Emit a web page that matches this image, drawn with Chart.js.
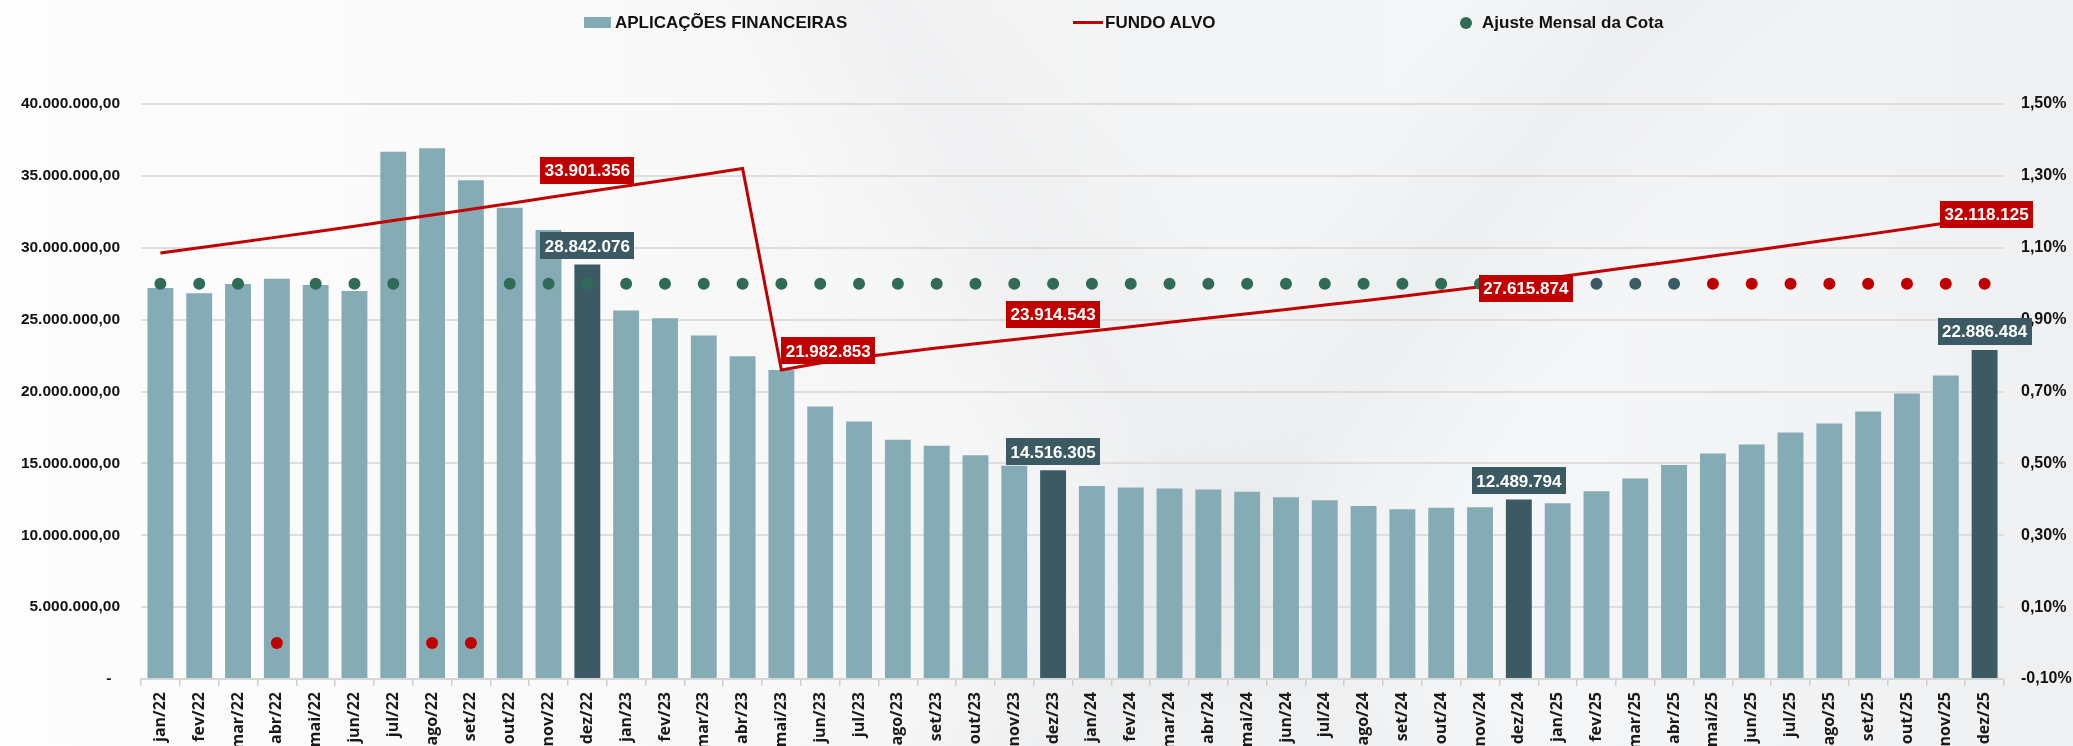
<!DOCTYPE html>
<html lang="pt-BR">
<head>
<meta charset="utf-8">
<title>Aplicações Financeiras x Fundo Alvo</title>
<script src="https://cdn.jsdelivr.net/npm/chart.js@4.4.1/dist/chart.umd.min.js"></script>
<style>
  html, body { margin: 0; padding: 0; }
  body { width: 2073px; height: 746px; overflow: hidden; font-family: "Liberation Sans", Arial, sans-serif; }
  #wrap {
    position: relative;
    width: 2073px;
    height: 746px;
    background:
      linear-gradient(128deg, rgba(255,255,255,0) 55%, rgba(215,218,222,0.25) 62%, rgba(255,255,255,0) 70%),
      linear-gradient(58deg, rgba(255,255,255,0) 46%, rgba(228,230,233,0.35) 53%, rgba(255,255,255,0) 60%),
      linear-gradient(90deg, #fdfdfd 0%, #f9f9f9 30%, #f3f4f5 55%, #f5f6f7 75%, #eff0f2 100%);
  }
  #legend { position: absolute; top: 0; left: 0; width: 100%; height: 46px; font-weight: bold; font-size: 17px; color: #111; }
  .item { position: absolute; top: 13px; height: 20px; line-height: 20px; white-space: nowrap; }
  .mark { display: inline-block; vertical-align: middle; position: relative; top: -1px; }
</style>
</head>
<body>
<div id="wrap">
  <canvas id="myChart"></canvas>
  <div id="legend">
    <div class="item" style="left:584px"><span class="mark" style="width:27px;height:11px;background:#85abb5;margin-right:4px"></span>APLICAÇÕES FINANCEIRAS</div>
    <div class="item" style="left:1073px"><span class="mark" style="width:30px;height:3px;background:#c00000;margin-right:2px"></span>FUNDO ALVO</div>
    <div class="item" style="left:1460px"><span class="mark" style="width:12px;height:12px;border-radius:50%;background:#2f6b57;margin-right:10px"></span>Ajuste Mensal da Cota</div>
  </div>
</div>
<script>
//Chart data
const months = [
  "jan/22", "fev/22", "mar/22", "abr/22", "mai/22", "jun/22", "jul/22", "ago/22", "set/22", "out/22", "nov/22", "dez/22",
  "jan/23", "fev/23", "mar/23", "abr/23", "mai/23", "jun/23", "jul/23", "ago/23", "set/23", "out/23", "nov/23", "dez/23",
  "jan/24", "fev/24", "mar/24", "abr/24", "mai/24", "jun/24", "jul/24", "ago/24", "set/24", "out/24", "nov/24", "dez/24",
  "jan/25", "fev/25", "mar/25", "abr/25", "mai/25", "jun/25", "jul/25", "ago/25", "set/25", "out/25", "nov/25", "dez/25",
];

const aplicacoes = [
  27200000, 26830000, 27480000, 27850000, 27410000, 26990000, 36670000, 36920000, 34700000, 32780000, 31230000, 28842076,
  25630000, 25090000, 23890000, 22450000, 21500000, 18960000, 17920000, 16640000, 16230000, 15560000, 14840000, 14516305,
  13430000, 13330000, 13260000, 13190000, 13030000, 12640000, 12430000, 12040000, 11810000, 11920000, 11940000, 12489794,
  12220000, 13060000, 13940000, 14880000, 15690000, 16320000, 17150000, 17780000, 18610000, 19860000, 21110000, 22886484,
];

const fundoAlvo = [
  29630000, 30000000, 30370000, 30740000, 31120000, 31500000, 31890000, 32280000, 32680000, 33080000, 33490000, 33901356,
  34300000, 34700000, 35100000, 35510000, 21500000, 21982853, 22360000, 22700000, 23020000, 23320000, 23620000, 23914543,
  24210000, 24510000, 24810000, 25110000, 25410000, 25710000, 26010000, 26320000, 26630000, 26950000, 27280000, 27615874,
  27970000, 28330000, 28690000, 29050000, 29420000, 29790000, 30170000, 30550000, 30930000, 31320000, 31720000, 32118125,
];

// % ajuste mensal da cota
const ajusteCota = [
  1.0, 1.0, 1.0, 0.0, 1.0, 1.0, 1.0, 0.0, 0.0, 1.0, 1.0, 1.0,
  1.0, 1.0, 1.0, 1.0, 1.0, 1.0, 1.0, 1.0, 1.0, 1.0, 1.0, 1.0,
  1.0, 1.0, 1.0, 1.0, 1.0, 1.0, 1.0, 1.0, 1.0, 1.0, 1.0, 1.0,
  1.0, 1.0, 1.0, 1.0, 1.0, 1.0, 1.0, 1.0, 1.0, 1.0, 1.0, 1.0,
];

const leftTicks = [0, 5000000, 10000000, 15000000, 20000000, 25000000, 30000000, 35000000, 40000000];
const rightTicks = [-0.1, 0.1, 0.3, 0.5, 0.7, 0.9, 1.1, 1.3, 1.5];

const barLabels = ["dez/22", "dez/23", "dez/24", "dez/25"];
const lineLabels = ["dez/22", "jun/23", "dez/23", "dez/24", "dez/25"];

//label box shift from the point (x, y)
const lineLabelShift = {
  "dez/22": [0, -21],
  "jun/23": [8, -12],
  "dez/23": [0, -21],
  "dez/24": [7, 6],
  "dez/25": [2, -3],
};

const LIGHT = "#85abb5";
const DARK = "#3b5a63";
const RED = "#c00000";
const GREEN = "#2f6b57";

const slateFrom = months.indexOf("jan/25");
const projFrom = months.indexOf("mai/25");

const barColors = months.map((m) => (m.startsWith("dez") ? DARK : LIGHT));
const dotColors = ajusteCota.map((v, i) => {
  if (v === 0 || i >= projFrom) return RED;
  if (i >= slateFrom) return DARK;
  return GREEN;
});

const thousands = (v) => Math.round(v).toString().replace(/\B(?=(\d{3})+(?!\d))/g, ".");

const drawBox = (ctx, text, cx, cy, bg) => {
  const w = Math.round(ctx.measureText(text).width + 9);
  const h = 27;
  ctx.fillStyle = bg;
  ctx.fillRect(Math.round(cx - w / 2), Math.round(cy - h / 2), w, h);
  ctx.fillStyle = "#ffffff";
  ctx.fillText(text, cx, cy + 1);
};

//value boxes over the dez bars and the fundo alvo line
const valueBoxes = {
  id: "valueBoxes",
  afterDatasetsDraw(chart) {
    const ctx = chart.ctx;
    const bars = chart.getDatasetMeta(0).data;
    const line = chart.getDatasetMeta(1).data;
    ctx.save();
    ctx.font = 'bold 17px "Liberation Sans", Arial, sans-serif';
    ctx.textAlign = "center";
    ctx.textBaseline = "middle";
    barLabels.forEach((m) => {
      const i = months.indexOf(m);
      drawBox(ctx, thousands(aplicacoes[i]), bars[i].x, bars[i].y - 18.5, DARK);
    });
    lineLabels.forEach((m) => {
      const i = months.indexOf(m);
      const [dx, dy] = lineLabelShift[m];
      drawBox(ctx, thousands(fundoAlvo[i]), line[i].x + dx, line[i].y + dy, RED);
    });
    ctx.restore();
  },
};

const axisFont = { family: '"Liberation Sans", Arial, sans-serif', weight: "bold", size: 15.5 };

var ctx = document.getElementById("myChart").getContext("2d");
var chart = new Chart(ctx, {
  type: "bar",
  data: {
    labels: months,
    datasets: [
      {
        type: "bar",
        label: "APLICAÇÕES FINANCEIRAS",
        data: aplicacoes,
        backgroundColor: barColors,
        categoryPercentage: 1,
        barPercentage: 0.667,
        yAxisID: "y",
        order: 3,
      },
      {
        type: "line",
        label: "FUNDO ALVO",
        data: fundoAlvo,
        borderColor: RED,
        borderWidth: 3,
        pointRadius: 0,
        tension: 0,
        yAxisID: "y",
        order: 2,
      },
      {
        type: "line",
        label: "Ajuste Mensal da Cota",
        data: ajusteCota,
        showLine: false,
        pointRadius: 6,
        pointBorderWidth: 0,
        pointBackgroundColor: dotColors,
        yAxisID: "y1",
        order: 1,
      },
    ],
  },
  options: {
    responsive: true,
    maintainAspectRatio: false,
    animation: false,
    layout: { padding: { top: 104, left: 0, right: 0, bottom: 0 } },
    plugins: {
      legend: { display: false },
      tooltip: { enabled: false },
    },
    scales: {
      x: {
        grid: { offset: true, drawOnChartArea: false, drawTicks: true, tickLength: 7, color: "#cfcfcf", lineWidth: 1.5 },
        border: { display: true, color: "#d6d6d6", width: 2 },
        ticks: {
          autoSkip: false,
          minRotation: 90,
          maxRotation: 90,
          padding: 6,
          color: "#1a1a1a",
          font: { family: '"Open Sans", sans-serif', weight: "bold", size: 16 },
        },
        afterFit: (s) => {
          s.height = 67;
        },
      },
      y: {
        position: "left",
        min: 0,
        max: 40000000,
        afterBuildTicks: (s) => {
          s.ticks = leftTicks.map((v) => ({ value: v }));
        },
        grid: { color: "#dedede", lineWidth: 2, drawTicks: false },
        border: { display: false },
        ticks: {
          padding: 21,
          color: "#111111",
          font: axisFont,
          callback: (v) => (v === 0 ? "-  " : thousands(v) + ",00"),
        },
        afterFit: (s) => {
          s.width = 141;
        },
      },
      y1: {
        position: "right",
        min: -0.1,
        max: 1.5,
        afterBuildTicks: (s) => {
          s.ticks = rightTicks.map((v) => ({ value: v }));
        },
        grid: { drawOnChartArea: false, drawTicks: false },
        border: { display: false },
        ticks: {
          padding: 17,
          color: "#111111",
          font: { ...axisFont, size: 16 },
          callback: (v) => v.toFixed(2).replace(".", ",") + "%",
        },
        afterFit: (s) => {
          s.width = 69;
        },
      },
    },
  },
  plugins: [valueBoxes],
});
</script>
</body>
</html>
